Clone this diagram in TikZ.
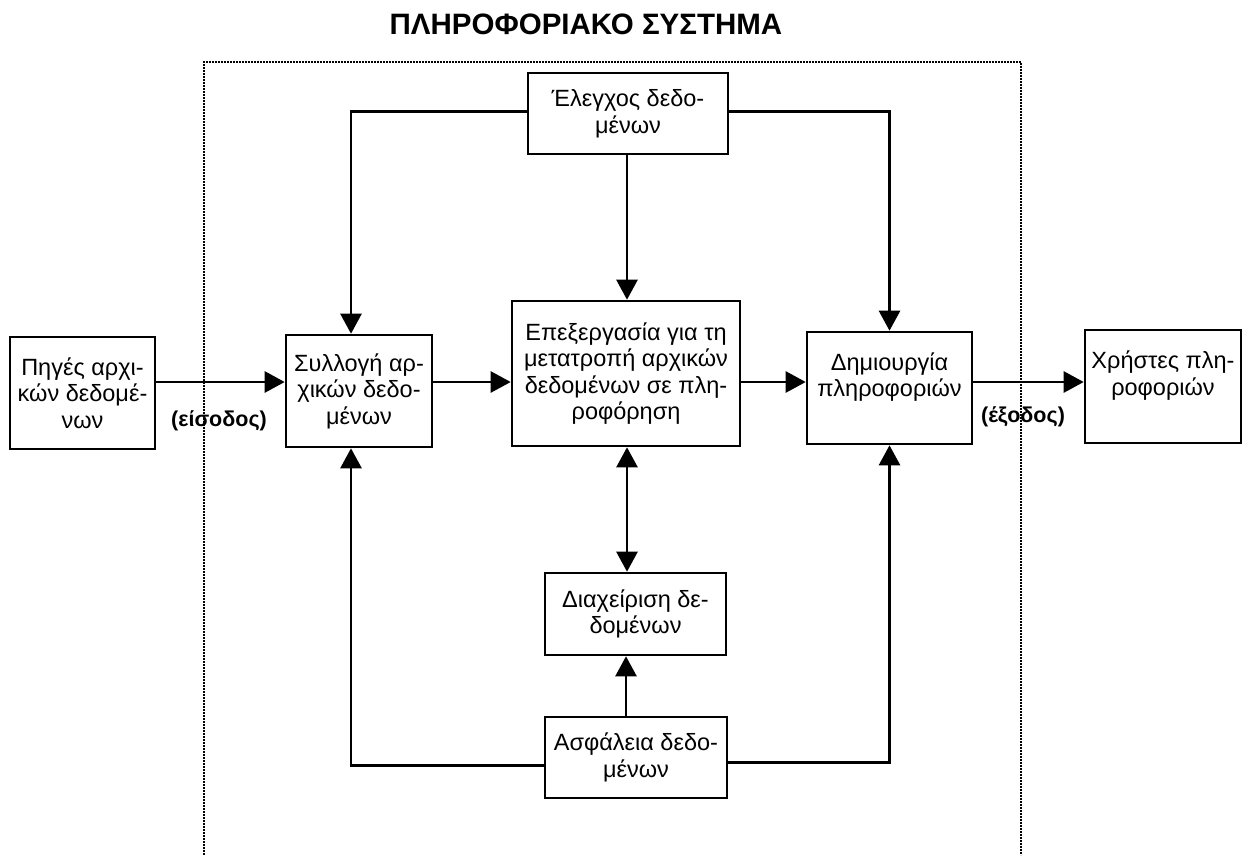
\documentclass[tikz,border=0pt]{standalone}
\usepackage{fontspec}
\setmainfont{Liberation Sans}
\usetikzlibrary{arrows.meta}

\tikzset{
  blk/.style={draw, line width=2.6pt, rectangle, inner sep=0pt, align=center,
              font=\fontsize{23.5}{26.5}\selectfont},
  conn/.style={line width=2.6pt},
  arr/.style={conn, -{Triangle[length=20pt,width=21pt]}},
  biarr/.style={conn, {Triangle[length=20pt,width=21pt]}-{Triangle[length=20pt,width=21pt]}},
  frame/.style={line width=1.8pt, dash pattern=on 1.8pt off 1.2pt},
  io/.style={font=\bfseries\fontsize{21.5}{24}\selectfont},
}

\begin{document}
\begin{tikzpicture}[x=1pt, y=-1pt]
  \useasboundingbox (0,0) rectangle (1249,857);

  % title
  \node[font=\bfseries\fontsize{29.5}{34}\selectfont] (title) at (586,24) {ΠΛΗΡΟΦΟΡΙΑΚΟ ΣΥΣΤΗΜΑ};

  % system boundary
  \draw[frame] (204,855) -- (204,62) -- (1021,62) -- (1021,855);

  % blocks
  \node[blk, minimum width=145pt, minimum height=112pt] (src)   at (82.5,393)  {Πηγές αρχι-\\κών δεδομέ-\\νων};
  \node[blk, minimum width=146pt, minimum height=112pt] (coll)  at (359,391)   {Συλλογή αρ-\\χικών δεδο-\\μένων};
  \node[blk, minimum width=228pt, minimum height=145pt] (proc)  at (626,373.5) {Επεξεργασία για τη\\μετατροπή αρχικών\\δεδομένων σε πλη-\\ροφόρηση};
  \node[blk, minimum width=165pt, minimum height=112pt] (creat) at (889.5,388) {Δημιουργία\\πληροφοριών\\\mbox{}};
  \node[blk, minimum width=156pt, minimum height=113pt] (users) at (1163,386.5) {Χρήστες πλη-\\ροφοριών\\\mbox{}};
  \node[blk, minimum width=200pt, minimum height=81pt]  (ctrl)  at (628,113.5) {Έλεγχος δεδο-\\μένων};
  \node[blk, minimum width=181pt, minimum height=82pt]  (mgmt)  at (635.5,614) {Διαχείριση δε-\\δομένων};
  \node[blk, minimum width=182pt, minimum height=81pt]  (sec)   at (636,757.5) {Ασφάλεια δεδο-\\μένων};

  % main flow row
  \coordinate (row) at (0,382);
  \draw[arr] (src.east |- row) -- (coll.west |- row);
  \draw[arr] (coll.east |- row) -- (proc.west |- row);
  \draw[arr] (proc.east |- row) -- (creat.west |- row);
  \draw[arr] (creat.east |- row) -- (users.west |- row);

  % input / output labels
  \node[io] (inlbl)  at (219,421)  {(είσοδος)};
  \node[io] (outlbl) at (1023,417) {(έξοδος)};

  % control links
  \draw[arr] ([yshift=2pt]ctrl.west) -| ([xshift=-8pt]coll.north);
  \draw[arr] ([yshift=2pt]ctrl.east) -| (creat.north);
  \draw[arr] ([xshift=-1pt]ctrl.south) -- ([xshift=-1pt]ctrl.south |- proc.north);

  % data management links
  \draw[biarr] ([xshift=1pt]proc.south) -- ([xshift=1pt]proc.south |- mgmt.north);
  \draw[arr] (sec.north -| proc.south) -- (mgmt.south -| proc.south);

  % security links
  \draw[arr] ([yshift=-8pt]sec.west) -| ([xshift=-8pt]coll.south);
  \draw[arr] ([yshift=-5pt]sec.east) -| (creat.south);
\end{tikzpicture}
\end{document}
